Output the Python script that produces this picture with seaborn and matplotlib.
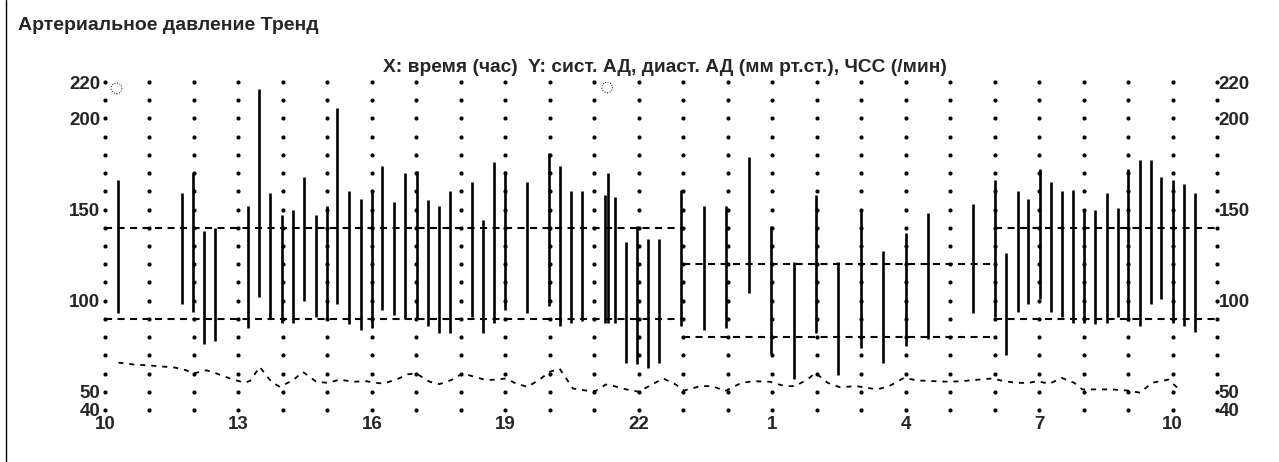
import matplotlib
matplotlib.use("Agg")
import matplotlib.pyplot as plt
import seaborn as sns
import numpy as np
from matplotlib.lines import Line2D

# ---------------- data ----------------
# measurement times in hours (24+ = next day)
meas_time = [10.30, 11.72, 11.97, 12.22, 12.47, 13.22, 13.46, 13.72, 13.98, 14.23,
             14.47, 14.74, 14.99, 15.22, 15.48, 15.75, 16.00, 16.23, 16.49, 16.75,
             17.01, 17.26, 17.50, 17.76, 18.26, 18.49, 18.74, 19.00, 19.49, 19.98,
             20.22, 20.48, 20.73, 21.23, 21.30, 21.47, 21.71, 21.97, 22.21, 22.46,
             22.96, 23.47, 23.96, 24.47, 24.97, 25.48, 25.98, 26.49, 26.99, 27.50,
             28.00, 28.50, 29.51, 30.00, 30.26, 30.52, 30.75, 31.01, 31.27, 31.52,
             31.76, 32.02, 32.26, 32.52, 32.77, 33.01, 33.26, 33.51, 33.75, 34.00,
             34.25, 34.51]
systolic = [166, 159, 170, 138, 140, 152, 216, 159, 147, 150,
            168, 147, 152, 206, 160, 156, 161, 174, 154, 170,
            171, 155, 152, 160, 165, 144, 176, 171, 165, 181,
            174, 160, 160, 158, 170, 157, 132, 141, 134, 134,
            161, 152, 152, 179, 141, 121, 158, 121, 149, 127,
            137, 148, 153, 166, 126, 160, 156, 172, 165, 160,
            161, 149, 150, 159, 151, 172, 177, 177, 168, 166,
            164, 159]
diastolic = [93, 98, 94, 76, 78, 85, 102, 90, 88, 88,
             100, 91, 90, 98, 87, 84, 85, 95, 92, 90,
             90, 86, 82, 82, 91, 82, 88, 95, 93, 97,
             86, 88, 89, 88, 88, 88, 66, 65, 63, 66,
             86, 84, 85, 104, 71, 57, 82, 59, 74, 66,
             75, 79, 93, 91, 70, 94, 98, 101, 94, 91,
             88, 88, 87, 88, 91, 89, 86, 98, 101, 88,
             86, 83]

hr_time = [10.30, 10.63, 10.97, 11.23, 11.57, 11.83, 11.98, 12.28, 12.51, 12.81,
           13.14, 13.26, 13.48, 13.74, 13.93, 14.23, 14.45, 14.75, 15.01, 15.28,
           15.57, 15.88, 16.02, 16.25, 16.55, 16.81, 17.00, 17.30, 17.52, 17.78,
           18.04, 18.27, 18.57, 18.79, 19.02, 19.24, 19.50, 19.77, 19.99, 20.22,
           20.52, 20.80, 21.03, 21.26, 21.45, 21.72, 22.00, 22.23, 22.55, 22.83,
           23.02, 23.39, 23.66, 23.94, 24.31, 24.59, 24.95, 25.28, 25.51, 25.79,
           25.97, 26.25, 26.52, 26.89, 27.36, 27.63, 27.96, 28.28, 28.65, 28.97,
           29.25, 29.66, 29.94, 30.22, 30.49, 30.77, 30.96, 31.23, 31.51, 31.79,
           31.97, 32.34, 32.62, 32.99, 33.27, 33.54, 33.91, 34.19]
hr_value = [66, 65, 64.5, 64, 63.3, 61.8, 60, 61.8, 60, 57.3,
            54.9, 56, 63.6, 55.5, 52.7, 56.4, 60.9, 55.5, 54.9, 56.7,
            55.5, 55.8, 55.1, 54.5, 56.7, 59.6, 60, 55.5, 54.2, 56.4,
            60, 58.5, 56.4, 56.7, 57.3, 54.5, 52.7, 56.7, 60.9, 62.7,
            51.8, 50.7, 50.4, 54, 53.1, 51.3, 50, 53.1, 57.3, 54,
            50.7, 53.1, 53.1, 50.4, 54.9, 55.8, 55.5, 53.1, 53.1, 56.7,
            60.4, 54.9, 52.5, 53.1, 51.3, 53.1, 57.6, 56.2, 55.8, 55.5,
            55.8, 56.7, 57.3, 55.8, 54.9, 54.9, 55.8, 54.4, 57.6, 54.9,
            51.3, 51.3, 51.3, 50.7, 49.5, 54.9, 56.7, 50.4]

# threshold periods (day / night / day)
limit_start = [10, 23, 30]
limit_end = [23, 30, 35]
limit_sys = [140, 120, 140]
limit_dia = [90, 80, 90]

# event markers
event_time = [10.26, 21.29]
event_value = [216.5, 217]

x_tick_pos = [10, 13, 16, 19, 22, 25, 28, 31, 34]
x_tick_labels = ["10", "13", "16", "19", "22", "1", "4", "7", "10"]
y_tick_pos = [40, 50, 100, 150, 200, 220]

title = "Артериальное давление Тренд"
subtitle = "X: время (час)  Y: сист. АД, диаст. АД (мм рт.ст.), ЧСС (/мин)"

# ---------------- plot ----------------
sns.set_theme(style="white")
plt.rcParams["font.family"] = ["Liberation Sans", "DejaVu Sans"]
plt.rcParams["font.weight"] = "bold"

W, H = 1279, 462
fig = plt.figure(figsize=(W / 100, H / 100), dpi=100)
ax = fig.add_axes([105 / W, 1 - 410 / H, (1217 - 105) / W, (410 - 82) / H])
ax.set_xlim(10, 35)
ax.set_ylim(40, 220)

# dotted grid
gx, gy = np.meshgrid(np.arange(10, 36), np.arange(40, 221, 10))
ax.scatter(gx.ravel(), gy.ravel(), s=9, color="black", linewidths=0,
           clip_on=False, zorder=2)

# threshold lines
for xs, xe, ls_, ld_ in zip(limit_start, limit_end, limit_sys, limit_dia):
    ax.plot([xs, xe], [ls_, ls_], color="black", lw=1.5,
            linestyle=(0, (3.4, 2.6)), zorder=3, clip_on=False)
    ax.plot([xs, xe], [ld_, ld_], color="black", lw=1.5,
            linestyle=(0, (3.4, 2.6)), zorder=3, clip_on=False)

# BP bars
ax.vlines(meas_time, diastolic, systolic, color="black", lw=1.9, zorder=4)

# heart rate
sns.lineplot(x=hr_time, y=hr_value, ax=ax, color="black", lw=1.3, sort=False,
             linestyle=(0, (2.8, 3.3)), zorder=4)

# event markers
ax.scatter(event_time, event_value, s=60, facecolors="none", edgecolors="black",
           linewidths=0.7, linestyle=":", zorder=5)

for sp in ax.spines.values():
    sp.set_visible(False)

ax.set_xticks(x_tick_pos)
ax.set_xticklabels(x_tick_labels, fontsize=13.5, fontweight="bold")
ax.set_yticks(y_tick_pos)
ax.set_yticklabels([str(v) for v in y_tick_pos], fontsize=13.5, fontweight="bold")
ax.tick_params(axis="x", length=0, pad=4)
ax.tick_params(axis="y", length=0, pad=3.5)

ax2 = ax.twinx()
ax2.set_ylim(40, 220)
ax2.set_yticks(y_tick_pos)
ax2.set_yticklabels([str(v) for v in y_tick_pos], fontsize=13.5, fontweight="bold")
ax2.tick_params(axis="y", length=0, pad=1)
for sp in ax2.spines.values():
    sp.set_visible(False)

fig.text(18 / W, 1 - 25 / H, title, fontsize=14, fontweight="bold",
         ha="left", va="center")
fig.text(665 / W, 1 - 67 / H, subtitle, fontsize=13.8, fontweight="bold",
         ha="center", va="center")

# panel border on the left
fig.add_artist(Line2D([6 / W, 6 / W], [0, 1], color="black", lw=1.0,
                      transform=fig.transFigure))

fig.savefig("out.png", dpi=100, facecolor="white")
